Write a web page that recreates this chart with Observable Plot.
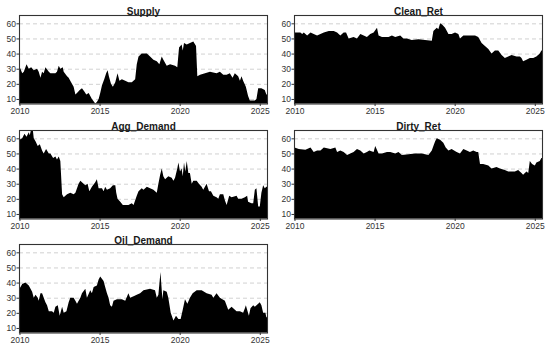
<!DOCTYPE html>
<html>
<head>
<meta charset="utf-8">
<script src="https://cdn.jsdelivr.net/npm/d3@7"></script>
<script src="https://cdn.jsdelivr.net/npm/@observablehq/plot@0.6"></script>
<style>
  html, body { margin: 0; padding: 0; background: #fff; }
  #wrap { position: relative; width: 550px; height: 351px; overflow: hidden; background: #fff; }
  .panel { position: absolute; }
</style>
</head>
<body>
<div id="wrap"></div>
<script>
// panel titles
const panelNames = ["Supply", "Clean_Ret", "Agg_Demand", "Dirty_Ret", "Oil_Demand"];
const xTicks = [2010, 2015, 2020, 2025];
const yTicks = [10, 20, 30, 40, 50, 60];

// [decimal year, value]
const supply = [
[2010.00,31],[2010.06,30],[2010.17,27],[2010.27,28],[2010.44,33],[2010.58,30],[2010.73,31],[2010.89,29],
[2011.10,30],[2011.20,28],[2011.31,24],[2011.41,28],[2011.51,27],[2011.62,31],[2011.83,28],[2011.93,27],
[2012.24,27],[2012.34,28],[2012.45,32],[2012.55,30],[2012.70,31],[2012.76,28],[2012.97,25],[2013.07,24],
[2013.17,22],[2013.38,18],[2013.49,13],[2013.59,14],[2013.76,16],[2013.90,17],[2014.05,15],[2014.17,13],
[2014.32,14],[2014.42,12],[2014.52,10],[2014.73,7],[2014.83,8],[2014.94,10],[2015.04,14],[2015.15,19],
[2015.29,23],[2015.41,27],[2015.50,29],[2015.58,25],[2015.71,20],[2015.83,18],[2015.98,21],[2016.12,27],
[2016.24,22],[2016.39,23],[2016.60,22],[2016.80,21],[2017.01,21],[2017.22,23],[2017.32,33],[2017.43,38],
[2017.63,40],[2017.95,40],[2018.15,38],[2018.36,36],[2018.57,35],[2018.73,33],[2018.88,38],[2018.98,36],
[2019.19,32],[2019.40,33],[2019.71,32],[2019.85,31],[2019.96,44],[2020.12,46],[2020.19,42],[2020.27,47],
[2020.44,46],[2020.64,47],[2020.85,48],[2021.02,45],[2021.10,25],[2021.27,26],[2021.58,27],[2021.89,28],
[2022.30,27],[2022.51,28],[2022.72,26],[2022.93,26],[2023.13,27],[2023.30,24],[2023.44,27],[2023.65,25],
[2023.76,22],[2023.86,25],[2023.96,22],[2024.13,18],[2024.27,12],[2024.38,9],[2024.69,9],[2024.79,10],
[2024.90,17],[2025.10,17],[2025.31,16],[2025.41,13],[2025.45,13]
];

const cleanRet = [
[2010.00,54],[2010.37,54],[2010.48,53],[2010.58,54],[2010.79,52],[2011.00,54],[2011.20,53],[2011.41,52],
[2011.62,53],[2011.83,54],[2012.14,55],[2012.45,55],[2012.66,54],[2012.86,52],[2013.07,54],[2013.22,54],
[2013.38,50],[2013.69,51],[2013.90,50],[2014.11,53],[2014.32,52],[2014.52,51],[2014.73,53],[2014.94,54],
[2015.15,57],[2015.25,52],[2015.46,51],[2015.87,51],[2016.08,52],[2016.29,51],[2016.60,52],[2016.80,50],
[2017.01,50],[2017.32,49],[2017.74,49.5],[2018.15,49],[2018.57,48.5],[2018.67,55],[2018.88,57],[2018.98,56],
[2019.09,60],[2019.23,59],[2019.40,57],[2019.61,53],[2019.81,53],[2020.02,54],[2020.23,53],[2020.33,50],
[2020.54,52],[2020.85,52],[2021.27,52],[2021.47,51],[2021.68,47],[2021.89,45],[2022.10,43],[2022.30,40],
[2022.51,42],[2022.72,42],[2022.93,39],[2023.13,37],[2023.34,38],[2023.55,39],[2023.86,38],[2024.07,38],
[2024.17,37],[2024.27,35],[2024.48,36],[2024.69,37],[2024.90,37],[2025.10,38],[2025.31,40],[2025.41,42],
[2025.45,42]
];

const aggDemand = [
[2010.00,59],[2010.17,60],[2010.31,63],[2010.44,61],[2010.58,64],[2010.64,62],[2010.73,66],[2010.83,66],
[2010.89,60],[2011.00,58],[2011.14,55],[2011.27,56],[2011.41,52],[2011.51,50],[2011.66,53],[2011.83,50],
[2011.93,50],[2012.10,47],[2012.24,48],[2012.34,46],[2012.45,48],[2012.55,45],[2012.66,23],[2012.76,21],
[2012.97,23],[2013.17,24],[2013.38,23],[2013.49,24],[2013.69,30],[2013.80,32],[2014.00,30],[2014.11,29],
[2014.25,30],[2014.36,25],[2014.52,28],[2014.73,31],[2014.83,33],[2014.94,27],[2015.15,27],[2015.25,25],
[2015.35,28],[2015.46,26],[2015.66,27],[2015.83,29],[2015.98,29],[2016.04,24],[2016.12,20],[2016.29,18],
[2016.45,16],[2016.80,16],[2017.01,17],[2017.12,16],[2017.32,22],[2017.43,25],[2017.63,27],[2017.74,26],
[2017.95,28],[2018.15,27],[2018.36,26],[2018.57,24],[2018.67,30],[2018.78,36],[2018.88,40],[2018.98,35],
[2019.09,33],[2019.29,35],[2019.50,34],[2019.61,32],[2019.71,34],[2019.85,40],[2019.92,44],[2020.02,38],
[2020.12,40],[2020.19,35],[2020.27,44],[2020.35,38],[2020.44,45],[2020.54,37],[2020.64,37],[2020.75,30],
[2020.85,32],[2021.06,32],[2021.20,30],[2021.37,28],[2021.47,26],[2021.68,30],[2021.83,25],[2021.95,25],
[2022.10,22],[2022.30,21],[2022.41,20],[2022.51,23],[2022.72,23],[2022.82,19],[2022.93,16],[2023.09,22],
[2023.24,21],[2023.55,22],[2023.65,20],[2023.86,20],[2024.07,21],[2024.21,22],[2024.27,18],[2024.48,17],
[2024.59,17],[2024.69,26],[2024.79,27],[2024.90,15],[2025.00,15],[2025.10,24],[2025.21,29],[2025.31,27],
[2025.41,28],[2025.45,28]
];

const dirtyRet = [
[2010.00,54],[2010.27,53],[2010.68,52.5],[2011.00,54],[2011.20,51],[2011.41,52],[2011.62,52],[2011.83,54],
[2012.24,53],[2012.55,54],[2012.66,51],[2012.86,52],[2013.07,51],[2013.28,49],[2013.69,51],[2013.90,53],
[2014.11,52],[2014.32,50],[2014.52,51],[2014.67,52],[2014.94,51],[2015.04,55],[2015.25,50],[2015.46,50],
[2015.77,51],[2015.98,51],[2016.29,50],[2016.49,51],[2016.70,49],[2017.12,49.5],[2017.53,50],[2017.95,50],
[2018.36,49],[2018.57,52],[2018.67,55],[2018.78,58],[2018.88,60],[2019.09,59],[2019.29,57],[2019.44,54],
[2019.61,52],[2019.81,53],[2020.12,51],[2020.33,50],[2020.54,53],[2020.75,52],[2020.95,51],[2021.16,52],
[2021.37,51],[2021.47,51],[2021.58,43],[2021.78,43],[2022.10,42],[2022.30,40],[2022.61,41],[2022.82,40],
[2023.13,39],[2023.34,38],[2023.76,38],[2023.96,39],[2024.17,37],[2024.27,36],[2024.48,38],[2024.59,37],
[2024.69,45],[2024.83,43],[2025.00,42],[2025.10,44],[2025.31,45],[2025.41,47],[2025.45,47]
];

const oilDemand = [
[2010.00,36],[2010.17,39],[2010.37,40],[2010.58,38],[2010.79,34],[2010.89,30],[2011.00,32],[2011.14,30],
[2011.20,28],[2011.31,33],[2011.41,33],[2011.62,27],[2011.72,25],[2011.83,21],[2012.03,21],[2012.14,20],
[2012.24,24],[2012.39,25],[2012.51,18],[2012.66,24],[2012.76,20],[2012.93,21],[2013.07,27],[2013.17,30],
[2013.38,30],[2013.49,28],[2013.59,26],[2013.80,30],[2013.90,33],[2014.11,36],[2014.21,30],[2014.42,35],
[2014.52,33],[2014.63,37],[2014.83,38],[2014.94,42],[2015.04,44],[2015.25,41],[2015.35,37],[2015.46,33],
[2015.56,30],[2015.66,25],[2015.77,24],[2015.87,28],[2016.08,29],[2016.39,29],[2016.60,28],[2016.80,33],
[2016.91,30],[2017.12,31],[2017.32,32],[2017.53,33],[2017.74,35],[2018.15,36],[2018.46,35],[2018.57,30],
[2018.67,32],[2018.80,47],[2018.92,29],[2018.98,35],[2019.19,34],[2019.29,30],[2019.44,20],[2019.61,15],
[2019.77,18],[2019.92,16],[2020.06,16],[2020.19,22],[2020.33,29],[2020.48,26],[2020.64,30],[2020.81,33],
[2021.06,35],[2021.37,35],[2021.68,33],[2021.99,32],[2022.10,30],[2022.30,33],[2022.51,30],[2022.82,28],
[2023.03,22],[2023.24,24],[2023.34,23],[2023.55,21],[2023.76,21],[2023.96,20],[2024.07,23],[2024.13,25],
[2024.21,22],[2024.32,18],[2024.42,23],[2024.59,25],[2024.69,24],[2024.90,26],[2025.00,27],[2025.10,25],
[2025.21,20],[2025.35,20],[2025.41,17],[2025.45,17]
];

const seriesList = [supply, cleanRet, aggDemand, dirtyRet, oilDemand];
const panelLeft = [0, 275, 0, 275, 0];
const panelTop = [0, 0, 115, 115, 229];

const wrap = document.getElementById("wrap");
panelNames.forEach((name, i) => {
  const data = seriesList[i].map(([x, y]) => ({x, y}));
  const chart = Plot.plot({
    width: 275,
    height: 115,
    marginLeft: 19,
    marginRight: 8,
    marginTop: 15,
    marginBottom: 11.5,
    style: {fontFamily: "'Liberation Sans', Arial, sans-serif", fontSize: "8.5px", color: "#333333", background: "transparent", overflow: "visible"},
    x: {domain: [2009.97, 2025.45], ticks: xTicks, tickFormat: d => String(d), tickSize: 2.5, tickPadding: 1, label: null},
    y: {domain: [7, 65.5], ticks: yTicks, tickSize: 2.5, tickPadding: 1, label: null},
    marks: [
      Plot.ruleY(yTicks, {stroke: "#cccccc", strokeDasharray: "4,3", strokeWidth: 0.9}),
      Plot.areaY(data, {x: "x", y: "y", fill: "black", clip: true}),
      Plot.frame({stroke: "#333333", strokeWidth: 1.1}),
      Plot.text([name], {frameAnchor: "top", dy: -8, fontWeight: "bold", fontSize: 10, fill: "#1a1a1a"})
    ]
  });
  const div = document.createElement("div");
  div.className = "panel";
  div.style.left = panelLeft[i] + "px";
  div.style.top = panelTop[i] + "px";
  div.appendChild(chart);
  wrap.appendChild(div);
});
</script>
</body>
</html>
